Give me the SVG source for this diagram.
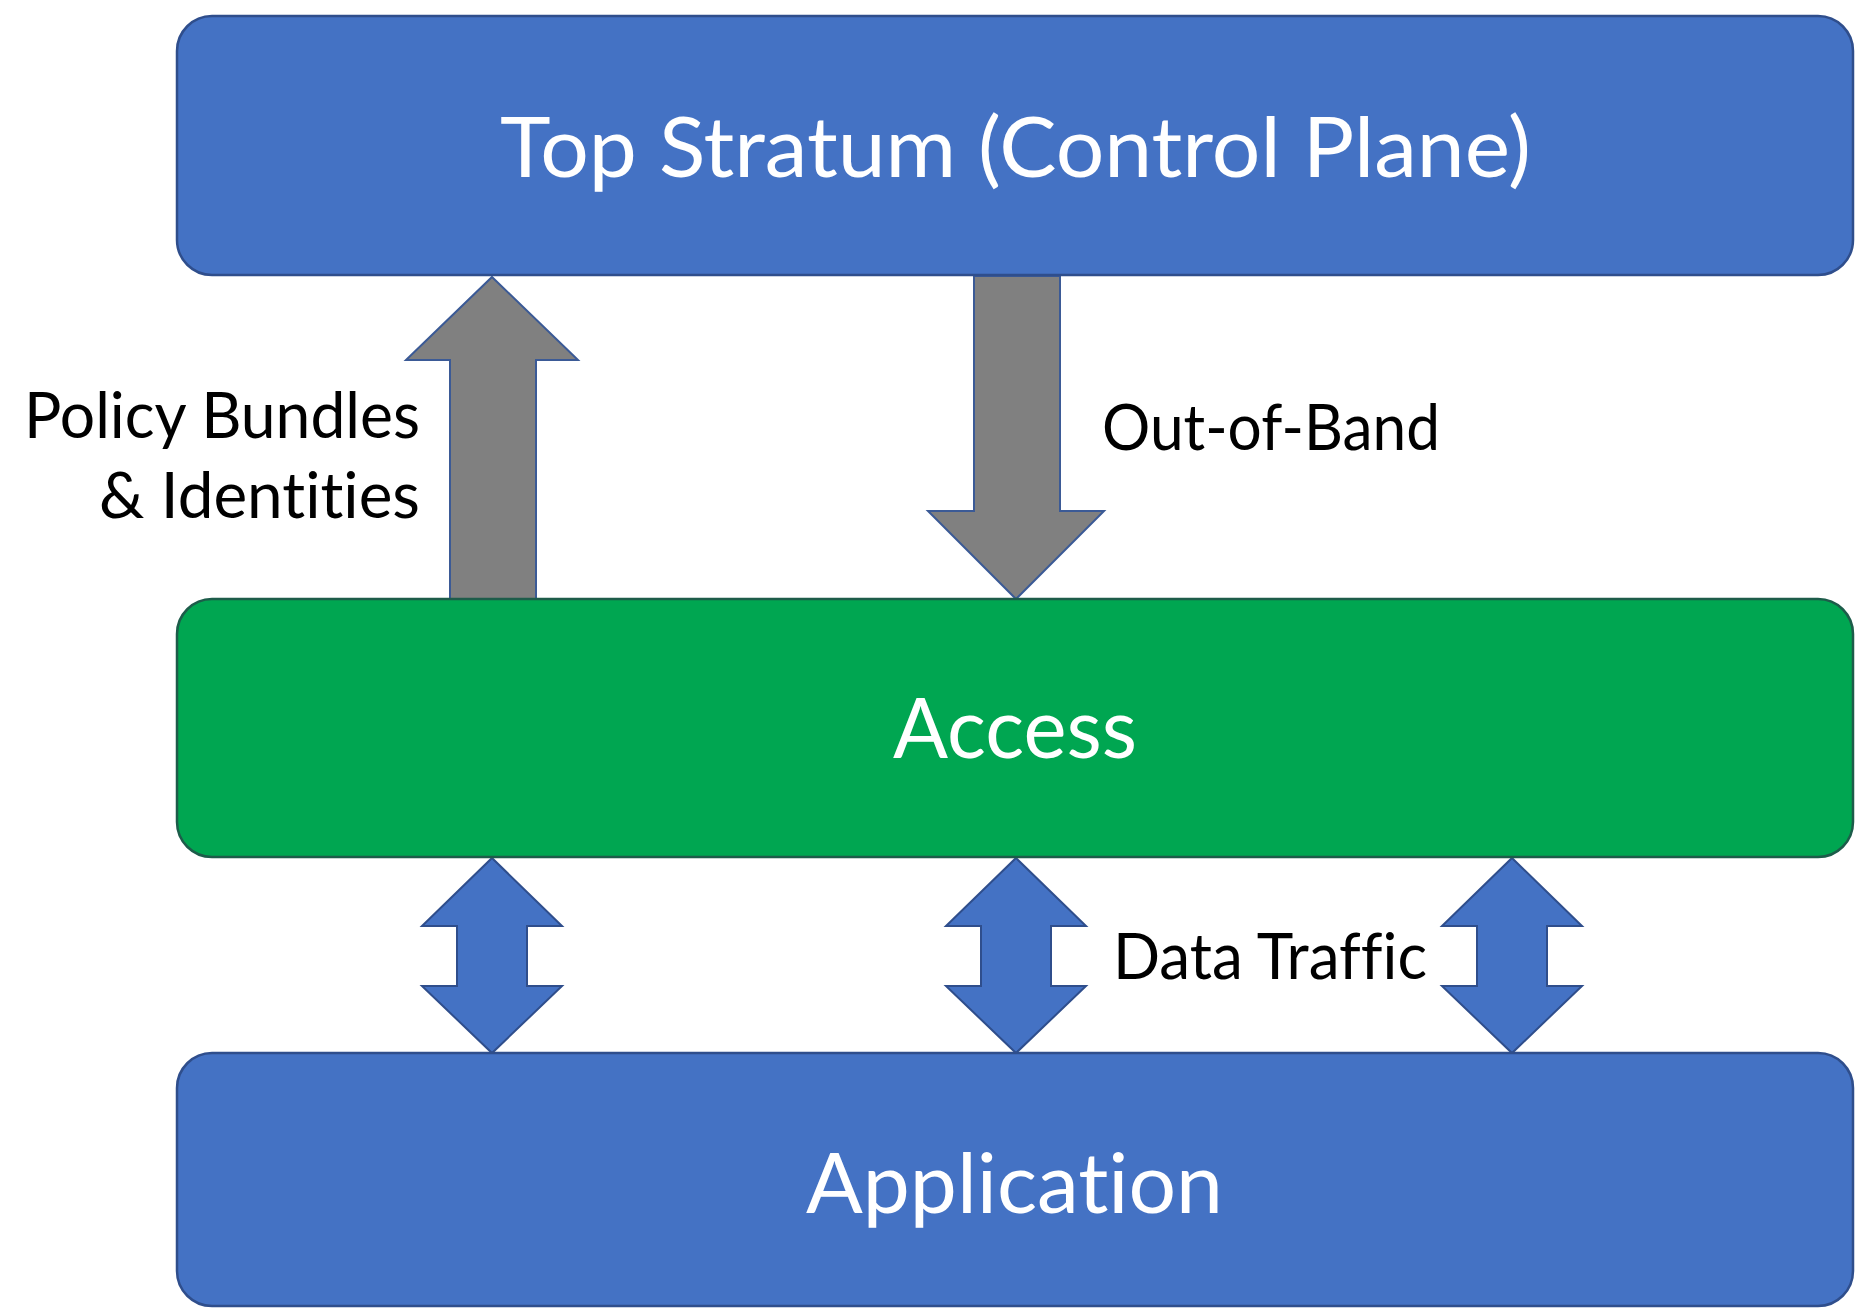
<svg xmlns="http://www.w3.org/2000/svg" width="1855" height="1308" viewBox="0 0 1855 1308">
  <style>
    .blue { fill: #4472C4; stroke: #2F4E8C; stroke-width: 2.5; }
    .green { fill: #00A651; stroke: #1D5C4A; stroke-width: 2.5; }
    .gray { fill: #808080; stroke: #3B5A96; stroke-width: 2; }
    .dbl { fill: #4472C4; stroke: #2F4E8C; stroke-width: 2; }
    text { font-variant-ligatures: none; font-feature-settings: "liga" 0, "clig" 0, "dlig" 0; }
    .big { font-family: Lato, "Open Sans", "Liberation Sans", sans-serif; font-size: 84px; fill: #FFFFFF; text-anchor: middle; }
    .lbl { font-family: Lato, "Open Sans", "Liberation Sans", sans-serif; font-size: 63px; fill: #000000; }
  </style>
  <rect x="0" y="0" width="1855" height="1308" fill="#FFFFFF"/>

  <g id="connectors">
    <polygon id="arrow-policy" class="gray" points="492,277 578,360 536,360 536,600 450,600 450,360 406,360"/>
    <polygon id="arrow-oob" class="gray" points="974,276 1060,276 1060,511 1104,511 1016,599 928,511 974,511"/>
    <polygon id="arrow-data-1" class="dbl" points="492,858 562,926 527,926 527,986 562,986 492,1053 422,986 457,986 457,926 422,926"/>
    <polygon id="arrow-data-2" class="dbl" points="1016,858 1086,926 1051,926 1051,986 1086,986 1016,1053 946,986 981,986 981,926 946,926"/>
    <polygon id="arrow-data-3" class="dbl" points="1512,858 1582,926 1547,926 1547,986 1582,986 1512,1053 1442,986 1477,986 1477,926 1442,926"/>
    <text class="lbl" x="420" y="438" text-anchor="end" textLength="396" lengthAdjust="spacingAndGlyphs">Policy Bundles</text>
    <text class="lbl" x="420" y="518" text-anchor="end" textLength="321" lengthAdjust="spacingAndGlyphs">&amp; Identities</text>
    <text class="lbl" x="1102" y="450" textLength="338" lengthAdjust="spacingAndGlyphs">Out-of-Band</text>
    <text class="lbl" x="1113" y="979" textLength="314" lengthAdjust="spacingAndGlyphs">Data Traffic</text>
  </g>

  <g id="node-top">
    <rect class="blue" x="177" y="16" width="1676" height="259" rx="35" ry="35"/>
    <text class="big" x="1015.5" y="177" textLength="1031" lengthAdjust="spacingAndGlyphs">Top Stratum (Control Plane)</text>
  </g>

  <g id="node-access">
    <rect class="green" x="177" y="599" width="1676" height="258" rx="35" ry="35"/>
    <text class="big" x="1015" y="758" textLength="244" lengthAdjust="spacingAndGlyphs">Access</text>
  </g>

  <g id="node-application">
    <rect class="blue" x="177" y="1053" width="1676" height="253" rx="35" ry="35"/>
    <text class="big" x="1014.5" y="1213" textLength="417" lengthAdjust="spacingAndGlyphs">Application</text>
  </g>
</svg>
